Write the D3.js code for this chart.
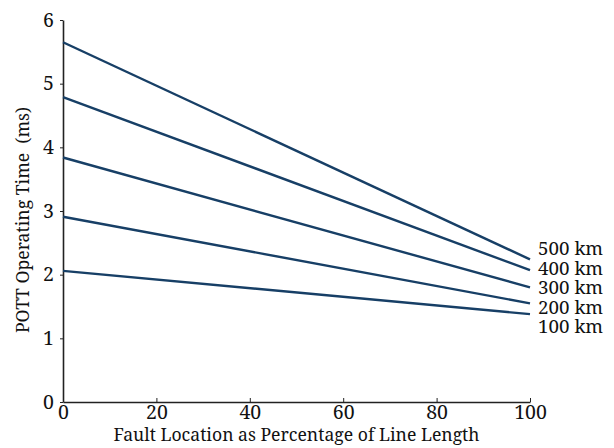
<!DOCTYPE html>
<html><head><meta charset="utf-8">
<script src="https://cdn.jsdelivr.net/npm/d3@7"></script>
<style>
html,body{margin:0;padding:0;background:#fff;}
text{font-family:"Noto Serif","DejaVu Serif",serif;fill:#111;}
</style></head>
<body><svg id="c" width="614" height="448"></svg>
<script>
const xPoints = [0, 100];
const seriesNames = ["500 km", "400 km", "300 km", "200 km", "100 km"];
const s500 = [5.65, 2.24];
const s400 = [4.79, 2.07];
const s300 = [3.84, 1.80];
const s200 = [2.91, 1.55];
const s100 = [2.06, 1.38];
const seriesValues = [s500, s400, s300, s200, s100];
const xTicks = [0, 20, 40, 60, 80, 100];
const yTicks = [0, 1, 2, 3, 4, 5, 6];

const svg = d3.select("#c");
const mLeft = 63, mRight = 530, mTop = 20, mBottom = 402;
const x = d3.scaleLinear().domain([0, 100]).range([mLeft, mRight]);
const y = d3.scaleLinear().domain([0, 6]).range([mBottom, mTop]);

const xAxis = svg.append("g").attr("transform", `translate(0,${mBottom})`)
  .call(d3.axisBottom(x).tickValues(xTicks).tickFormat(d3.format("d")).tickSize(-4).tickSizeOuter(0));
const yAxis = svg.append("g").attr("transform", `translate(${mLeft},0)`)
  .call(d3.axisLeft(y).tickValues(yTicks).tickFormat(d3.format("d")).tickSize(3).tickPadding(6).tickSizeOuter(0));
[xAxis, yAxis].forEach(a => {
  a.select(".domain").attr("stroke", "#222").attr("stroke-width", 1.6);
  a.selectAll(".tick line").attr("stroke", "#222");
  a.selectAll(".tick text").attr("font-size", 19.5).attr("font-family", null).attr("fill", "#111");
});
xAxis.selectAll(".tick text").attr("y", 17).attr("dy", 0);

const line = d3.line().x((d, i) => x(xPoints[i])).y(d => y(d));
svg.append("g").selectAll("path").data(seriesValues).join("path")
  .attr("d", d => line(d)).attr("fill", "none")
  .attr("stroke", "#173f66").attr("stroke-width", 2.4);

svg.append("g").selectAll("text").data(seriesNames).join("text")
  .attr("x", 538).attr("y", (d, i) => 255 + i * 19.6)
  .attr("font-size", 18.8).text(d => d);

svg.append("text").attr("x", 296.5).attr("y", 441)
  .attr("text-anchor", "middle").attr("font-size", 17.6)
  .text("Fault Location as Percentage of Line Length");

svg.append("text").attr("transform", "translate(29,220) rotate(-90)")
  .attr("text-anchor", "middle").attr("font-size", 17.6)
  .attr("xml:space", "preserve")
  .text("POTT Operating Time  (ms)");
</script></body></html>
